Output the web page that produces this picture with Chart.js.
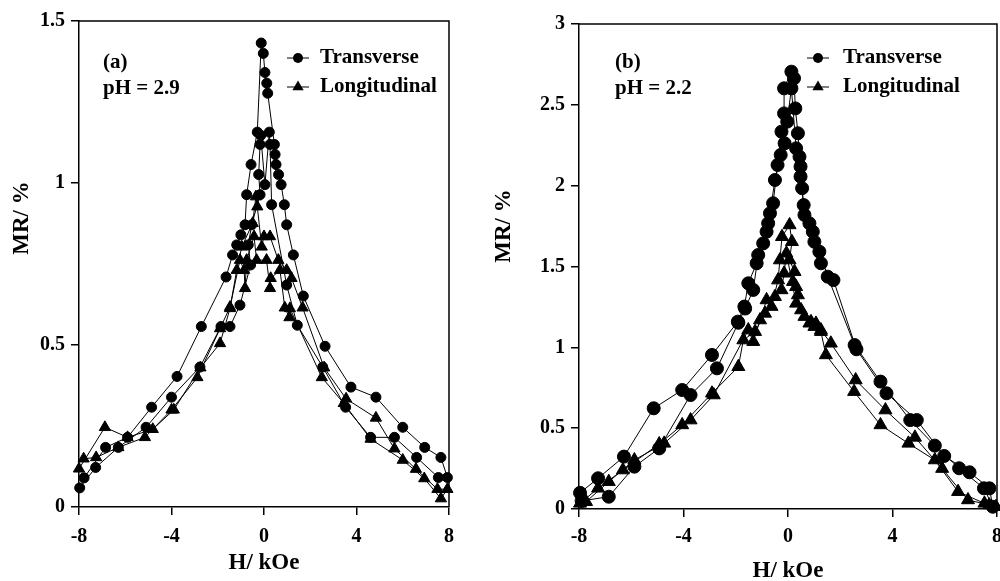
<!DOCTYPE html>
<html>
<head>
<meta charset="utf-8">
<script src="https://cdn.jsdelivr.net/npm/chart.js@4.4.1/dist/chart.umd.min.js"></script>
<style>
  html, body { margin: 0; padding: 0; background: #fff; overflow: hidden; width: 1000px; height: 581px; }
  .panel { position: absolute; top: 0; }
  #chartA { left: 0; }
  #chartB { left: 480px; }
</style>
</head>
<body>
<canvas id="chartA" class="panel" width="500" height="581"></canvas>
<canvas id="chartB" class="panel" width="530" height="581"></canvas>
<script>
// ---- data (H in kOe, MR in %) ----
// tick values / labels
const xTicks = [-8, -4, 0, 4, 8];
const yTicksA = [0, 0.5, 1, 1.5];
const yLabelsA = ['0', '0.5', '1', '1.5'];
const yTicksB = [0, 0.5, 1, 1.5, 2, 2.5, 3];
const yLabelsB = ['0', '0.5', '1', '1.5', '2', '2.5', '3'];

// (a) pH = 2.9, transverse: sweep up then sweep back
const transA_H = [-7.78, -6.85, -5.9, -4.86, -3.76, -2.71, -1.64, -1.36, -1.18, -1.0, -0.82, -0.75, -0.56, -0.29, -0.12, -0.03, 0.04, 0.12, 0.16, 0.45, 0.48, 0.52, 0.63, 0.74, 0.88, 0.98, 1.27, 1.7, 2.64, 3.76, 4.84, 6.0, 6.95, 7.65, 7.93,
                  7.54, 6.6, 5.64, 4.61, 3.53, 2.54, 1.44, 0.98, 0.33, 0.26, 0.23, 0.04, -0.14, -0.17, -0.23, -0.17, -0.53, -0.68, -0.58, -1.04, -1.47, -1.86, -2.77, -4.0, -5.1, -6.3, -7.28, -7.97];
const transA_MR = [0.09, 0.184, 0.215, 0.308, 0.403, 0.557, 0.71, 0.778, 0.809, 0.84, 0.871, 0.964, 1.057, 1.157, 1.432, 1.40, 1.341, 1.308, 1.277, 1.119, 1.088, 1.057, 1.026, 0.995, 0.933, 0.871, 0.778, 0.651, 0.496, 0.37, 0.339, 0.246, 0.184, 0.153, 0.091,
                   0.091, 0.153, 0.215, 0.215, 0.308, 0.432, 0.561, 0.685, 0.933, 1.119, 1.157, 0.995, 1.147, 1.119, 1.026, 0.964, 0.871, 0.809, 0.747, 0.623, 0.557, 0.557, 0.432, 0.339, 0.246, 0.184, 0.122, 0.059];

// (a) longitudinal
const longA_H = [-8, -6.88, -5.9, -4.81, -3.9, -2.75, -1.9, -1.47, -1.18, -0.96, -0.49, -0.35, -0.29, -0.1, 0.0, 0.26, 0.62, 0.98, 1.19, 1.67, 2.6, 3.55, 4.84, 5.64, 6.57, 7.5, 7.93,
                 7.65, 6.93, 6.0, 4.61, 3.45, 2.5, 1.12, 1.1, 0.9, 0.69, 0.29, 0.26, 0.11, -0.32, -0.43, -0.75, -0.82, -0.86, -1.04, -1.47, -1.9, -2.88, -4.0, -5.15, -6.3, -7.26, -7.8];
const longA_MR = [0.118, 0.246, 0.215, 0.24, 0.30, 0.43, 0.505, 0.613, 0.731, 0.803, 0.876, 0.958, 0.927, 0.803, 0.835, 0.835, 0.762, 0.731, 0.706, 0.615, 0.43, 0.334, 0.275, 0.18, 0.117, 0.055, 0.055,
                  0.026, 0.088, 0.145, 0.21, 0.32, 0.40, 0.613, 0.585, 0.615, 0.731, 0.706, 0.675, 0.762, 0.762, 0.835, 0.762, 0.675, 0.731, 0.762, 0.617, 0.551, 0.40, 0.30, 0.215, 0.184, 0.153, 0.149];

// (b) pH = 2.2, transverse
const transB_H = [-7.96, -7.27, -6.28, -5.14, -4.05, -2.91, -1.92, -1.67, -1.52, -1.2, -0.95, -0.76, -0.57, -0.40, -0.25, -0.15, -0.15, 0.13, 0.23, 0.28, 0.38, 0.48, 0.54, 0.63, 0.95, 1.2, 1.52, 2.55, 3.54, 4.68, 5.62, 6.55, 7.5, 7.84,
                  7.71, 6.95, 5.98, 4.93, 3.77, 2.62, 1.74, 1.26, 1.01, 0.82, 0.6, 0.48, 0.44, 0.31, 0.13, -0.03, -0.13, -0.28, -0.5, -0.69, -0.82, -1.14, -1.33, -1.64, -1.9, -2.72, -3.73, -4.93, -5.88, -6.86, -7.9];
const transB_MR = [0.10, 0.19, 0.324, 0.623, 0.736, 0.953, 1.159, 1.252, 1.396, 1.52, 1.643, 1.767, 1.891, 2.128, 2.334, 2.447, 2.602, 2.705, 2.664, 2.478, 2.324, 2.118, 1.984, 1.819, 1.715, 1.592, 1.437, 1.014, 0.788, 0.55, 0.392, 0.252, 0.128, 0.014,
                   0.128, 0.227, 0.328, 0.55, 0.716, 0.988, 1.416, 1.52, 1.653, 1.767, 1.88, 2.056, 2.179, 2.231, 2.602, 2.396, 2.262, 2.19, 2.035, 1.829, 1.715, 1.571, 1.355, 1.24, 1.152, 0.87, 0.705, 0.375, 0.262, 0.076, 0.05];

// (b) longitudinal
const longB_H = [-7.96, -7.27, -6.32, -4.93, -4.05, -2.91, -1.9, -1.71, -1.26, -0.88, -0.63, -0.38, -0.31, -0.23, 0.06, 0.15, 0.06, 0.25, 0.19, 0.31, 0.38, 0.5, 0.82, 1.01, 1.26, 1.45, 2.53, 3.54, 4.61, 5.62, 6.51, 7.52, 7.96,
                 7.7, 6.89, 5.9, 4.86, 3.73, 2.59, 1.64, 1.26, 1.07, 0.88, 0.63, 0.31, -0.06, -0.15, -0.25, -0.5, -0.82, -1.07, -1.33, -1.52, -2.84, -3.73, -4.74, -5.88, -6.86, -7.73];
const longB_MR = [0.035, 0.128, 0.241, 0.402, 0.52, 0.716, 0.88, 1.045, 1.097, 1.21, 1.252, 1.416, 1.54, 1.684, 1.757, 1.653, 1.54, 1.468, 1.406, 1.375, 1.324, 1.231, 1.149, 1.128, 1.097, 0.953, 0.726, 0.52, 0.406, 0.303, 0.107, 0.035, 0.014,
                  0.025, 0.056, 0.25, 0.443, 0.612, 0.798, 1.025, 1.107, 1.148, 1.158, 1.19, 1.272, 1.582, 1.458, 1.355, 1.313, 1.293, 1.169, 1.035, 1.107, 0.705, 0.55, 0.406, 0.303, 0.169, 0.045];

const FONT = '"Liberation Serif", "Times New Roman", serif';

function pts(hs, mrs) {
  return hs.map((h, i) => ({ x: h, y: mrs[i] }));
}

// frame, panel tag, legend and y title
const decorPlugin = {
  id: 'decor',
  afterDraw(chart, args, opts) {
    const { ctx, chartArea: a } = chart;
    ctx.save();
    ctx.strokeStyle = '#000';
    ctx.fillStyle = '#000';
    ctx.lineWidth = 1.5;
    ctx.beginPath();
    ctx.moveTo(a.left, a.top);
    ctx.lineTo(a.right, a.top);
    ctx.lineTo(a.right, a.bottom);
    ctx.stroke();

    ctx.font = 'bold 21px ' + FONT;
    ctx.textBaseline = 'middle';
    ctx.textAlign = 'left';
    ctx.fillText(opts.tag, a.left + opts.tagX, a.top + opts.tagY);
    ctx.fillText(opts.ph, a.left + opts.tagX, a.top + opts.tagY + 26);

    chart.data.datasets.forEach((ds, i) => {
      const x = a.left + opts.legX;
      const y = a.top + opts.legY + i * opts.legGap;
      ctx.lineWidth = 1;
      ctx.beginPath();
      ctx.moveTo(x - 11, y);
      ctx.lineTo(x + 11, y);
      ctx.stroke();
      ctx.beginPath();
      if (ds.pointStyle === 'triangle') {
        const r = 6.5;
        ctx.moveTo(x, y - r);
        ctx.lineTo(x + r * 0.866, y + r * 0.5);
        ctx.lineTo(x - r * 0.866, y + r * 0.5);
        ctx.closePath();
      } else {
        ctx.arc(x, y, 5, 0, Math.PI * 2);
      }
      ctx.fill();
      ctx.fillText(ds.label, x + opts.legText, y);
    });

    ctx.font = 'bold 23px ' + FONT;
    ctx.textAlign = 'center';
    ctx.translate(opts.yTitleX, opts.yTitleY);
    ctx.rotate(-Math.PI / 2);
    ctx.fillText('MR/ %', 0, 0);
    ctx.restore();
  }
};

function makeChart(id, cfg) {
  const tickFont = { family: FONT, size: 20, weight: 'bold' };
  return new Chart(document.getElementById(id), {
    type: 'scatter',
    data: {
      datasets: [
        {
          label: 'Transverse',
          data: cfg.trans,
          pointStyle: 'circle',
          pointRadius: cfg.circleR,
          pointBackgroundColor: '#000',
          pointBorderColor: '#000',
          borderColor: '#000',
          borderWidth: 1,
          showLine: true,
          tension: 0,
          clip: false
        },
        {
          label: 'Longitudinal',
          data: cfg.long,
          pointStyle: 'triangle',
          pointRadius: cfg.triR,
          pointBackgroundColor: '#000',
          pointBorderColor: '#000',
          borderColor: '#000',
          borderWidth: 1,
          showLine: true,
          tension: 0,
          clip: false
        }
      ]
    },
    options: {
      responsive: false,
      animation: false,
      layout: { padding: cfg.padding },
      plugins: {
        legend: { display: false },
        tooltip: { enabled: false },
        decor: cfg.decor
      },
      scales: {
        x: {
          type: 'linear',
          min: -8,
          max: 8,
          afterBuildTicks: s => { s.ticks = xTicks.map(v => ({ value: v })); },
          afterFit: s => { s.height = cfg.xHeight; },
          ticks: {
            color: '#000',
            font: tickFont,
            padding: cfg.xPad,
            maxRotation: 0,
            autoSkip: false,
            callback: v => String(v)
          },
          grid: { display: true, drawOnChartArea: false, drawTicks: true, tickLength: 8, color: '#000', lineWidth: 1.5 },
          border: { display: true, color: '#000', width: 1.5 },
          title: {
            display: true,
            text: 'H/ kOe',
            color: '#000',
            font: { family: FONT, size: 23, weight: 'bold', lineHeight: 1 },
            padding: { top: 0, bottom: cfg.xTitlePad }
          }
        },
        y: {
          min: 0,
          max: cfg.yMax,
          afterBuildTicks: s => { s.ticks = cfg.yTicks.map(v => ({ value: v })); },
          afterFit: s => { s.width = cfg.yWidth; },
          ticks: {
            color: '#000',
            font: tickFont,
            padding: 6,
            autoSkip: false,
            callback: (v, i) => cfg.yLabels[i]
          },
          grid: { display: true, drawOnChartArea: false, drawTicks: true, tickLength: 8, color: '#000', lineWidth: 1.5 },
          border: { display: true, color: '#000', width: 1.5 }
        }
      }
    },
    plugins: [decorPlugin]
  });
}

makeChart('chartA', {
  trans: pts(transA_H, transA_MR),
  long: pts(longA_H, longA_MR),
  circleR: 5,
  triR: 6.5,
  yMax: 1.5,
  yTicks: yTicksA,
  yLabels: yLabelsA,
  padding: { left: 0, top: 21, right: 51, bottom: 0 },
  xHeight: 74,
  yWidth: 79,
  xPad: 10,
  xTitlePad: 6,
  decor: { tag: '(a)', ph: 'pH = 2.9', tagX: 24, tagY: 42, legX: 219, legY: 37, legGap: 29, legText: 22, yTitleX: 22, yTitleY: 218 }
});

makeChart('chartB', {
  trans: pts(transB_H, transB_MR),
  long: pts(longB_H, longB_MR),
  circleR: 6.5,
  triR: 7.5,
  yMax: 3,
  yTicks: yTicksB,
  yLabels: yLabelsB,
  padding: { left: 0, top: 24, right: 9, bottom: 0 },
  xHeight: 72,
  yWidth: 99,
  xPad: 8,
  xTitlePad: -2,
  decor: { tag: '(b)', ph: 'pH = 2.2', tagX: 36, tagY: 39, legX: 239, legY: 34, legGap: 29, legText: 25, yTitleX: 24, yTitleY: 226 }
});
</script>
</body>
</html>
